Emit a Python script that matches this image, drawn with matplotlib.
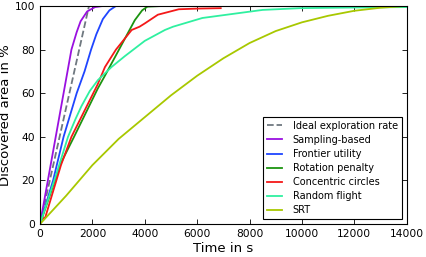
import matplotlib
matplotlib.use('Agg')
import matplotlib.pyplot as plt

# curves (time in s, discovered area in %)
ideal_t = [0, 1870]
ideal_a = [0, 100]

sampling_t = [0, 300, 600, 900, 1200, 1400, 1550, 1800, 2100, 2400, 3000]
sampling_a = [0, 20, 40, 60, 80, 88, 93, 97.5, 99.5, 100, 100]

frontier_t = [0, 500, 900, 1400, 1700, 1950, 2150, 2400, 2650, 2900, 3500]
frontier_a = [0, 20, 40, 60, 70, 80, 87, 94, 98, 100, 100]

rotation_t = [0, 800, 1300, 2200, 2500, 2860, 3240, 3620, 3900, 4100, 4700]
rotation_a = [0, 28, 40, 62, 68.5, 76.5, 85, 93.5, 98, 99.7, 100]

circles_t = [0, 100, 200, 800, 1200, 2200, 2480, 2900, 3300, 3500, 3800, 4000,
             4500, 5300, 6000, 6900]
circles_a = [1, 2.5, 3, 27, 40, 64, 72, 80, 86, 89, 90.5, 92, 96, 98.5, 98.8, 99]

random_t = [0, 600, 1070, 1350, 1580, 1900, 2210, 2730, 3240, 4000, 4770,
            5080, 6200, 7630, 8500, 9920, 12000, 14000]
random_a = [0, 22, 40, 48, 54, 61, 66, 72, 77, 84, 89, 90.5, 94.5, 96.8,
            98.2, 99, 99.3, 99.5]

srt_t = [0, 1000, 2000, 3000, 4000, 5000, 6000, 7000, 8000, 9000, 10000,
         11000, 12000, 13000, 14000]
srt_a = [0, 13, 27, 39, 49, 59, 68, 76, 83, 88.5, 92.5, 95.5, 97.8, 99.2, 100]

plt.rcParams['font.family'] = ['DejaVu Sans']
plt.rcParams['xtick.direction'] = 'in'
plt.rcParams['ytick.direction'] = 'in'
plt.rcParams['xtick.top'] = True
plt.rcParams['ytick.right'] = True

fig = plt.figure(figsize=(4.27, 2.57), dpi=100)
ax = fig.add_axes([0.0937, 0.1284, 0.8587, 0.8483])

lw = 1.3
ax.plot(ideal_t, ideal_a, '--', color='#6f7880', lw=lw, label='Ideal exploration rate')
ax.plot(sampling_t, sampling_a, color='#9a10e0', lw=lw, label='Sampling-based')
ax.plot(frontier_t, frontier_a, color='#1f45ff', lw=lw, label='Frontier utility')
ax.plot(rotation_t, rotation_a, color='#1b9410', lw=lw, label='Rotation penalty')
ax.plot(circles_t, circles_a, color='#f41818', lw=lw, label='Concentric circles')
ax.plot(random_t, random_a, color='#2ff0a0', lw=lw, label='Random flight')
ax.plot(srt_t, srt_a, color='#a8c800', lw=lw, label='SRT')

ax.set_xlim(0, 14000)
ax.set_ylim(0, 100)
ax.set_xticks(range(0, 14001, 2000))
ax.set_yticks(range(0, 101, 20))
ax.tick_params(labelsize=7.7, length=3.5, width=0.6)
for s in ax.spines.values():
    s.set_linewidth(0.8)

ax.set_xlabel('Time in s', fontsize=9.5, labelpad=2)
ax.set_ylabel('Discovered area in %', fontsize=9.5, labelpad=2)

leg = ax.legend(loc='lower right', fontsize=7, handlelength=1.55,
                handletextpad=1.1, labelspacing=0.42, fancybox=False,
                framealpha=1, borderaxespad=0.5)
leg.get_frame().set_edgecolor('black')
leg.get_frame().set_linewidth(0.8)

fig.savefig('out.png', dpi=100)
